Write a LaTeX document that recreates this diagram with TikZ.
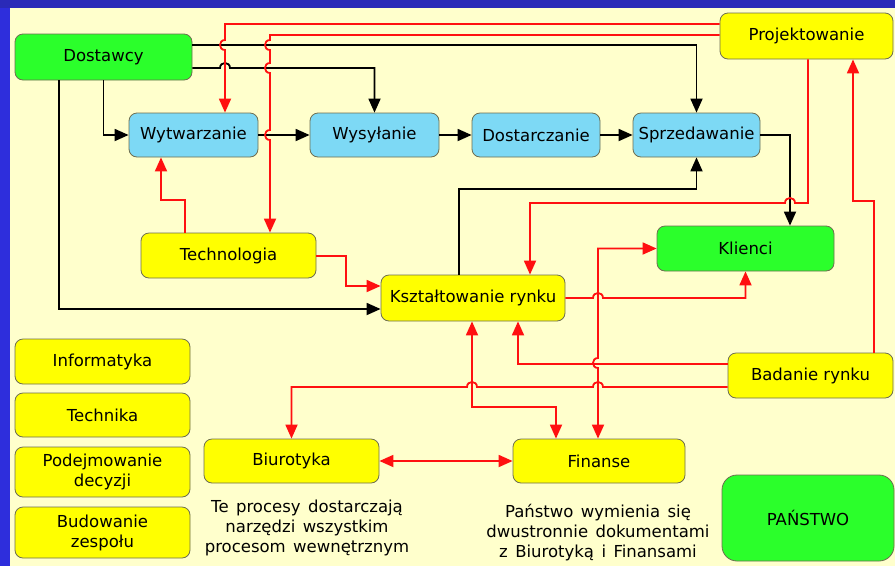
\documentclass[tikz,border=0pt]{standalone}
\usepackage{fontspec}
\setmainfont{DejaVu Sans}
\usetikzlibrary{arrows.meta}
\definecolor{bgc}{HTML}{FFFFCC}
\definecolor{blueL}{HTML}{2E2EDC}
\definecolor{blueT}{HTML}{2A2AB8}
\definecolor{gfill}{HTML}{2BFF2B}
\definecolor{bfill}{HTML}{7DD9F5}
\definecolor{yfill}{HTML}{FFFF00}
\definecolor{bord}{HTML}{6E6E50}
\definecolor{redc}{HTML}{FF1010}
\newcommand\mywidesp{\spaceskip=0.45em\relax}
\begin{document}
\begin{tikzpicture}[x=1pt,y=-1pt,
  >={Triangle[length=14pt,width=12pt]},
  box/.style={draw=bord, line width=0.8pt, rounded corners=8pt, inner sep=0pt,
    align=center, font=\fontsize{16.5}{20}\selectfont, text=black},
  gbox/.style={box, fill=gfill},
  bbox/.style={box, fill=bfill},
  ybox/.style={box, fill=yfill},
  blk/.style={draw=black, line width=1.8pt, ->},
  rd/.style={draw=redc, line width=1.8pt},
  captext/.style={align=center, font=\fontsize{16.5}{20}\selectfont\mywidesp, inner sep=0pt}
]
\useasboundingbox (0,0) rectangle (895,566);
\fill[bgc] (0,0) rectangle (895,566);
\fill[blueL] (0,0) rectangle (10,566);
\fill[blueT] (0,0) rectangle (895,8);

% nodes
\node[gbox, minimum width=177pt, minimum height=46pt] (dost) at (103.5,57) {Dostawcy};
\node[bbox, minimum width=129pt, minimum height=44pt] (wyt) at (193.5,135) {Wytwarzanie};
\node[bbox, minimum width=129pt, minimum height=44pt] (wys) at (374.5,135) {Wysyłanie};
\node[bbox, minimum width=128pt, minimum height=44pt] (dos) at (536,135) {Dostarczanie};
\node[bbox, minimum width=127pt, minimum height=44pt] (spr) at (696.5,135) {Sprzedawanie};
\node[ybox, minimum width=173pt, minimum height=46pt] (proj) at (806.5,36) {Projektowanie};
\node[ybox, minimum width=175pt, minimum height=45pt] (tech) at (228.5,255.5) {Technologia};
\node[ybox, minimum width=184pt, minimum height=46pt] (ksz) at (473,298) {Kształtowanie rynku};
\node[gbox, minimum width=177pt, minimum height=45pt] (kli) at (745.5,248.5) {Klienci};
\node[ybox, minimum width=165pt, minimum height=45pt] (bad) at (810.5,375.5) {Badanie rynku};
\node[ybox, minimum width=175pt, minimum height=45pt] (inf) at (102.5,361.5) {Informatyka};
\node[ybox, minimum width=175pt, minimum height=44pt] (techn) at (102.5,415) {Technika};
\node[ybox, minimum width=175pt, minimum height=50pt] (pod) at (102.5,472) {Podejmowanie\\decyzji};
\node[ybox, minimum width=175pt, minimum height=51pt] (bud) at (102.5,532.5) {Budowanie\\zespołu};
\node[ybox, minimum width=175pt, minimum height=44pt] (bio) at (291.5,461) {Biurotyka};
\node[ybox, minimum width=172pt, minimum height=44pt] (fin) at (599,461) {Finanse};
\node[gbox, rounded corners=15pt, minimum width=172pt, minimum height=86pt] (pan) at (808,518) {PAŃSTWO};

\node[captext] (c1) at (307,528) {Te procesy dostarczają\\narzędzi wszystkim\\procesom wewnętrznym};
\node[captext] (c2) at (598,533) {Państwo wymienia się\\dwustronnie dokumentami\\z Biurotyką i Finansami};

% black connectors
\draw[blk] (dost.east|-0,45) -| (spr.north);
\draw[blk] (dost.east|-0,68) -- (220,68) .. controls (220,61.3) and (230,61.3) .. (230,68) -| (wys.north);
\draw[blk] (dost.south) |- (wyt.west);
\draw[blk] (59,0|-dost.south) |- (ksz.west|-0,309);
\draw[blk] (wyt.east) -- (wys.west);
\draw[blk] (wys.east) -- (dos.west);
\draw[blk] (dos.east) -- (spr.west);
\draw[blk] (spr.east) -| (790,0|-kli.north);
\draw[blk] (459,0|-ksz.north) -- (459,189) -| (spr.south);

% red connectors
\draw[rd,->] (proj.west|-0,24) -- (225,24) -- (225,40) .. controls (218.3,40) and (218.3,50) .. (225,50) -- (225,0|-wyt.north);
\draw[rd,->] (proj.west|-0,35) -- (270,35) -- (270,40) .. controls (263.3,40) and (263.3,50) .. (270,50)
   -- (270,63) .. controls (263.3,63) and (263.3,73) .. (270,73)
   -- (270,130) .. controls (263.3,130) and (263.3,140) .. (270,140) -- (270,0|-tech.north);
\draw[rd,->] (185,0|-tech.north) -- (185,200) -| (161,0|-wyt.south);
\draw[rd,->] (tech.east|-0,256) -| (346,286) -- (ksz.west|-0,286);
\draw[rd,->] (808,0|-proj.south) -- (808,203) -- (795,203) .. controls (795,196.3) and (785,196.3) .. (785,203) -| (530,0|-ksz.north);
\draw[rd,->] (874,0|-bad.north) -- (874,201) -| (853,0|-proj.south);
\draw[rd,->] (ksz.east) -- (593,298) .. controls (593,291.3) and (603,291.3) .. (603,298) -| (kli.south);
\draw[rd,<->] (kli.west) -| (598,358) .. controls (591.3,358) and (591.3,368) .. (598,368) -- (598,0|-fin.north);
\draw[rd,->] (bad.west|-0,364) -| (518,0|-ksz.south);
\draw[rd,->] (bad.west|-0,387) -- (603,387) .. controls (603,380.3) and (593,380.3) .. (593,387)
   -- (477,387) .. controls (477,380.3) and (467,380.3) .. (467,387) -| (bio.north);
\draw[rd,<->] (472,0|-ksz.south) -- (472,407) -| (556,0|-fin.north);
\draw[rd,<->] (bio.east) -- (fin.west);
\end{tikzpicture}
\end{document}
